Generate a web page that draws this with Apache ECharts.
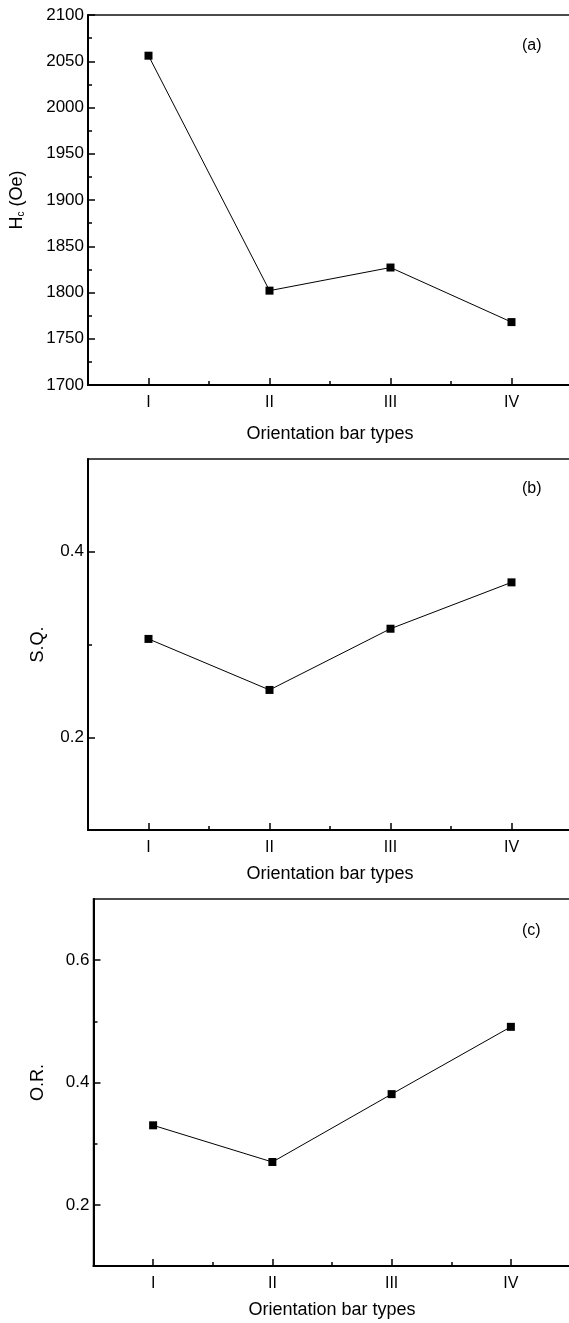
<!DOCTYPE html>
<html>
<head>
<meta charset="utf-8">
<script src="https://cdn.jsdelivr.net/npm/echarts@6/dist/echarts.min.js"></script>
<style>
  html, body { margin: 0; padding: 0; background: #fff; }
  #chart { width: 569px; height: 1323px; }
</style>
</head>
<body>
<div id="chart"></div>
<script>
// categories and their positions on the x axis
var categories = ['I', 'II', 'III', 'IV'];
var xPos = [1, 2, 3, 4];
var xMinor = [1.5, 2.5, 3.5];

// (a) coercivity
var hcValues = [2056, 1802, 1827, 1768];
// (b) squareness
var sqValues = [0.306, 0.251, 0.317, 0.367];
var sqTicks = [0.2, 0.4];
var sqMinor = [0.3];
// (c) orientation ratio
var orValues = [0.330, 0.270, 0.381, 0.491];
var orTicks = [0.2, 0.4, 0.6];
var orMinor = [0.3, 0.5];

var FONT = '"Liberation Sans", Arial, sans-serif';
var BLACK = '#000';

var grids = [], xAxes = [], yAxes = [], series = [];

function addPanel (p) {
  var gi = grids.length;
  grids.push({
    left: p.left, top: p.top, width: p.width, height: p.height,
    outerBoundsMode: 'none', containLabel: false,
    show: true, borderColor: '#111', borderWidth: 1.5
  });
  var xi = xAxes.length;
  xAxes.push({
    gridIndex: gi, type: 'value', min: 0.5, max: 4.5, position: 'bottom',
    axisLine: { onZero: false, lineStyle: { color: BLACK, width: 2 } },
    axisTick: { inside: true, length: 7, customValues: xPos, lineStyle: { color: BLACK, width: 1.5 } },
    axisLabel: {
      customValues: xPos, margin: 10, color: BLACK, fontSize: 16, fontFamily: FONT,
      formatter: function (v) { return categories[xPos.indexOf(v)] }
    },
    splitLine: { show: false },
    name: 'Orientation bar types', nameLocation: 'middle', nameGap: p.xGap,
    nameTextStyle: { color: BLACK, fontSize: 18, fontFamily: FONT }
  });
  xAxes.push({
    gridIndex: gi, type: 'value', min: 0.5, max: 4.5, position: 'bottom',
    axisLine: { show: false },
    axisTick: { inside: true, length: 4, customValues: xMinor, lineStyle: { color: BLACK, width: 1.5 } },
    axisLabel: { show: false },
    splitLine: { show: false }
  });
  var yi = yAxes.length;
  var y = {
    gridIndex: gi, type: 'value', min: p.min, max: p.max, position: 'left',
    axisLine: { show: true, onZero: false, lineStyle: { color: BLACK, width: 2 } },
    axisTick: { show: true, inside: true, length: 7, lineStyle: { color: BLACK, width: 1.5 } },
    axisLabel: {
      margin: 4, color: BLACK, fontSize: 17, fontFamily: FONT,
      formatter: function (v) { return String(v) }
    },
    splitLine: { show: false },
    name: p.yName, nameLocation: 'middle', nameGap: p.yGap,
    nameTextStyle: p.nameStyle
  };
  if (p.interval) {
    y.interval = p.interval;
    y.minorTick = { show: true, splitNumber: 2, length: 4, lineStyle: { color: BLACK, width: 1.5 } };
  } else {
    y.axisTick.customValues = p.ticks;
    y.axisLabel.customValues = p.ticks;
  }
  yAxes.push(y);
  if (p.minor) {
    yAxes.push({
      gridIndex: gi, type: 'value', min: p.min, max: p.max, position: 'left',
      axisLine: { show: false },
      axisTick: { show: true, inside: true, length: 4, customValues: p.minor, lineStyle: { color: BLACK, width: 1.5 } },
      axisLabel: { show: false },
      splitLine: { show: false }
    });
  }
  series.push({
    type: 'line', xAxisIndex: xi, yAxisIndex: yi,
    data: xPos.map(function (x, i) { return [x, p.values[i]] }),
    symbol: 'rect', symbolSize: 8,
    lineStyle: { color: BLACK, width: 1 },
    itemStyle: { color: BLACK },
    z: 5
  });
}

var nameBase = { color: BLACK, fontSize: 18, fontFamily: FONT };

addPanel({
  left: 88, top: 15, width: 484, height: 370, min: 1700, max: 2100, interval: 50,
  values: hcValues, xGap: 40, yGap: 62,
  yName: '{t|H}{s|c}{t| (Oe)}',
  nameStyle: {
    color: BLACK, fontFamily: FONT,
    rich: {
      t: { fontSize: 18, fontFamily: FONT, color: BLACK },
      s: { fontSize: 10, fontFamily: FONT, color: BLACK, verticalAlign: 'bottom', padding: [8, 0, 0, 0] }
    }
  }
});
addPanel({
  left: 88, top: 459, width: 484, height: 371, min: 0.1, max: 0.5,
  ticks: sqTicks, minor: sqMinor,
  values: sqValues, xGap: 35, yGap: 41,
  yName: 'S.Q.', nameStyle: nameBase
});
addPanel({
  left: 93.5, top: 899, width: 477, height: 367, min: 0.1, max: 0.7,
  ticks: orTicks, minor: orMinor,
  values: orValues, xGap: 35, yGap: 46,
  yName: 'O.R.', nameStyle: nameBase
});

var chart = echarts.init(document.getElementById('chart'));
chart.setOption({
  animation: false,
  backgroundColor: '#fff',
  grid: grids,
  xAxis: xAxes,
  yAxis: yAxes,
  series: series,
  graphic: [
    { type: 'text', left: 522, top: 38, style: { text: '(a)', fontSize: 16, fontFamily: FONT, fill: BLACK } },
    { type: 'text', left: 522, top: 481, style: { text: '(b)', fontSize: 16, fontFamily: FONT, fill: BLACK } },
    { type: 'text', left: 522, top: 923, style: { text: '(c)', fontSize: 16, fontFamily: FONT, fill: BLACK } }
  ]
});
</script>
</body>
</html>
